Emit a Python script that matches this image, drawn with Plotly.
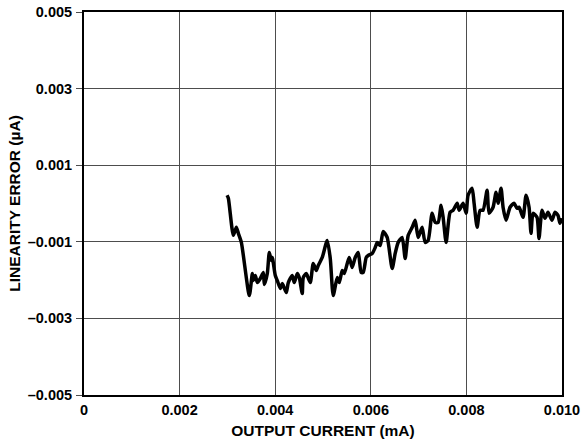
import plotly.graph_objects as go

# Output current (mA)
output_current = [
    0.002993, 0.003020, 0.003124, 0.003187, 0.003229, 0.003292, 0.003459, 0.003522,
    0.003543, 0.003584, 0.003626, 0.003689, 0.003752, 0.003772, 0.003835, 0.003877,
    0.003918, 0.003939, 0.004002, 0.004044, 0.004107, 0.004148, 0.004169, 0.004232,
    0.004274, 0.004357, 0.004399, 0.004462, 0.004504, 0.004566, 0.004587, 0.004650,
    0.004671, 0.004734, 0.004796, 0.004859, 0.004901, 0.004984, 0.005089, 0.005152,
    0.005214, 0.005298, 0.005340, 0.005402, 0.005444, 0.005507, 0.005549, 0.005611,
    0.005674, 0.005737, 0.005799, 0.005841, 0.005904, 0.005946, 0.006029, 0.006092,
    0.006134, 0.006196, 0.006259, 0.006343, 0.006447, 0.006510, 0.006573, 0.006656,
    0.006719, 0.006782, 0.006866, 0.006928, 0.006991, 0.007074, 0.007137, 0.007200,
    0.007283, 0.007346, 0.007409, 0.007471, 0.007513, 0.007576, 0.007659, 0.007722,
    0.007806, 0.007847, 0.007931, 0.007994, 0.008035, 0.008119, 0.008161, 0.008224,
    0.008286, 0.008349, 0.008433, 0.008474, 0.008558, 0.008621, 0.008662, 0.008725,
    0.008767, 0.008830, 0.008913, 0.008997, 0.009060, 0.009101, 0.009185, 0.009248,
    0.009311, 0.009352, 0.009394, 0.009477, 0.009519, 0.009582, 0.009645, 0.009707,
    0.009791, 0.009854, 0.009916, 0.009958, 0.010000,
]

# Linearity error (µA)
linearity_error = [
    0.000216, 0.000138, -0.000832, -0.000622, -0.000780, -0.001016, -0.002405, -0.001828,
    -0.002012, -0.001881, -0.002064, -0.001959, -0.001802, -0.002116, -0.001828, -0.001278,
    -0.001487, -0.001409, -0.001881, -0.002012, -0.002221, -0.002090, -0.002143, -0.002326,
    -0.002064, -0.001881, -0.002064, -0.001828, -0.001933, -0.002352, -0.001933, -0.001828,
    -0.001881, -0.002064, -0.001566, -0.001750, -0.001619, -0.001409, -0.000963, -0.001435,
    -0.002405, -0.001933, -0.002064, -0.001750, -0.001828, -0.001566, -0.001409, -0.001671,
    -0.001409, -0.001278, -0.001802, -0.001802, -0.001409, -0.001357, -0.001304, -0.001150,
    -0.001016, -0.001095, -0.000728, -0.000885, -0.001697, -0.001304, -0.001016, -0.000885,
    -0.001435, -0.000832, -0.000622, -0.000439, -0.000885, -0.000622, -0.001016, -0.000963,
    -0.000256, -0.000492, -0.000492, -0.000046, -0.000360, -0.001016, -0.000229, -0.000177,
    0.000006, -0.000177, 0.000006, -0.000256, 0.000216, 0.000400, 0.000006, -0.000622,
    -0.000177, -0.000177, 0.000347, -0.000256, -0.000098, 0.000295, 0.000006, 0.000400,
    -0.000098, -0.000439, -0.000098, 0.000006, -0.000125, -0.000098, -0.000360, 0.000216,
    -0.000098, -0.000780, -0.000256, -0.000360, -0.000911, -0.000177, -0.000387, -0.000229,
    -0.000439, -0.000229, -0.000308, -0.000517, -0.000387,
]

x_ticks = [0, 0.002, 0.004, 0.006, 0.008, 0.010]
x_tick_labels = ["0", "0.002", "0.004", "0.006", "0.008", "0.010"]
y_ticks = [-0.005, -0.003, -0.001, 0.001, 0.003, 0.005]
y_tick_labels = ["–0.005", "–0.003", "–0.001", "0.001", "0.003", "0.005"]

FONT = "Liberation Sans, Arial, sans-serif"
TICKFONT = dict(family=FONT, size=14.5, color="black", weight="bold")
TITLEFONT = dict(family=FONT, size=15.5, color="black", weight="bold")

fig = go.Figure()
fig.add_trace(go.Scatter(
    x=output_current, y=linearity_error, mode="lines",
    line=dict(color="black", width=3.5, shape="spline", smoothing=0.6),
    showlegend=False, hoverinfo="skip",
))

axis_common = dict(
    showgrid=True, gridcolor="#4d4d4d", gridwidth=1,
    showline=True, linecolor="black", linewidth=2, mirror=True,
    zeroline=False, tickfont=TICKFONT, automargin=False,
)

fig.update_layout(
    width=582, height=444,
    margin=dict(l=84, r=20, t=12, b=49, autoexpand=False),
    paper_bgcolor="white", plot_bgcolor="white",
    font=dict(family=FONT, color="black"),
    xaxis=dict(
        range=[0, 0.010], tickvals=x_ticks, ticktext=x_tick_labels,
        ticks="", ticklabelstandoff=1,
        title=dict(text="OUTPUT CURRENT (mA)", standoff=8, font=TITLEFONT),
        **axis_common,
    ),
    yaxis=dict(
        range=[-0.005, 0.005], tickvals=y_ticks, ticktext=y_tick_labels,
        ticks="outside", ticklen=6, tickwidth=1, tickcolor="#4d4d4d",
        ticklabelstandoff=1,
        title=dict(text="LINEARITY ERROR (µA)", standoff=3, font=TITLEFONT),
        **axis_common,
    ),
)

fig.write_html(
    "out.html",
    config={"displayModeBar": False, "staticPlot": True},
    post_script="document.body.style.margin='0px';",
)
